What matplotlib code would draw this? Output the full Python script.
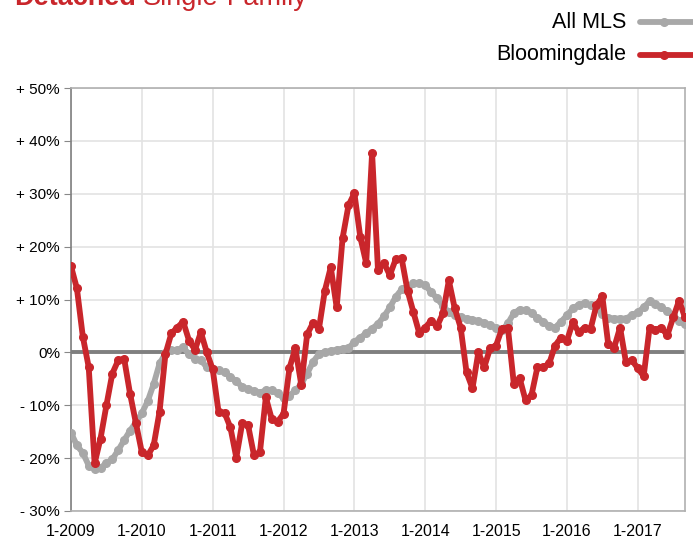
import numpy as np
import matplotlib.pyplot as plt
from matplotlib.lines import Line2D

plt.rcParams['font.family'] = ['Liberation Sans', 'DejaVu Sans']

# monthly year-over-year change, 1-2009 .. 9-2017
bloomingdale = [
    16.3, 12.1, 3.0, -2.8, -21.0, -16.3, -10.0, -4.0, -1.5, -1.2,
    -7.8, -13.4, -18.9, -19.5, -17.6, -11.2, -0.3, 3.6, 4.7, 5.8,
    2.2, 0.5, 3.8, 0.0, -3.2, -11.3, -11.4, -14.2, -19.9, -13.4,
    -13.8, -19.5, -18.9, -8.5, -12.6, -13.1, -11.6, -3.0, 0.8, -6.1,
    3.4, 5.6, 4.5, 11.7, 16.1, 8.5, 21.6, 27.8, 30.1, 21.8,
    16.9, 37.7, 15.5, 16.9, 14.6, 17.6, 17.8, 11.7, 7.6, 3.6,
    4.7, 6.0, 4.9, 7.4, 13.6, 8.3, 4.7, -3.8, -6.8, 0.0,
    -2.8, 0.8, 1.3, 4.5, 4.7, -5.9, -4.9, -9.1, -8.1, -2.8,
    -2.8, -2.1, 1.3, 2.8, 2.2, 5.7, 3.8, 4.7, 4.4, 8.9,
    10.6, 1.5, 0.9, 4.7, -1.9, -1.5, -3.0, -4.5, 4.7, 4.2,
    4.7, 3.2, 6.6, 9.8, 6.6,
]
all_mls = [
    -15.2, -17.6, -19.0, -21.4, -22.0, -21.8, -21.0, -20.2, -18.5, -16.6,
    -14.8, -13.2, -11.5, -9.2, -6.0, -2.1, -0.2, 0.4, 0.4, 1.0,
    -0.4, -1.2, -1.5, -2.8, -3.2, -3.4, -3.8, -4.6, -5.5, -6.5,
    -7.0, -7.3, -7.6, -7.2, -7.2, -7.7, -8.7, -8.2, -7.2, -6.0,
    -4.0, -1.8, -0.3, 0.0, 0.3, 0.5, 0.7, 0.8, 2.0, 2.8,
    3.6, 4.5, 5.4, 6.8, 8.5, 10.5, 11.9, 12.5, 13.1, 13.1,
    12.7, 11.4, 10.2, 8.8, 7.6, 7.0, 6.6, 6.4, 6.2, 5.9,
    5.6, 5.1, 4.7, 4.2, 5.5, 7.4, 8.1, 8.0, 7.5, 6.5,
    5.8, 5.0, 4.7, 5.8, 7.0, 8.3, 9.0, 9.3, 8.9, 8.4,
    7.2, 6.5, 6.4, 6.4, 6.4, 7.0, 7.6, 8.5, 9.7, 9.2,
    8.5, 7.8, 7.0, 6.0, 5.3,
]
year_labels = ['1-2009', '1-2010', '1-2011', '1-2012', '1-2013',
               '1-2014', '1-2015', '1-2016', '1-2017']
y_values = [50, 40, 30, 20, 10, 0, -10, -20, -30]
y_labels = ['+ 50%', '+ 40%', '+ 30%', '+ 20%', '+ 10%', '0%',
            '- 10%', '- 20%', '- 30%']

red = '#C9262B'
grey = '#A8A8A8'

months = np.arange(len(bloomingdale))

fig = plt.figure(figsize=(6.93, 5.38), dpi=100)
ax = fig.add_axes([71 / 693, 27 / 538, 614 / 693, 423 / 538])

ax.plot(months, all_mls, color=grey, lw=4.2, marker='o', ms=5.5,
        solid_capstyle='round', zorder=3)
ax.plot(months, bloomingdale, color=red, lw=4.2, marker='o', ms=5.5,
        solid_capstyle='round', zorder=4)
ax.axhline(0, color='#7F7F7F', lw=2.8, zorder=2)

ax.set_xlim(0, 104)
ax.set_ylim(-30, 50)
ax.set_xticks(np.arange(0, 105, 12))
ax.set_xticklabels(year_labels, fontsize=11.5)
ax.set_yticks(y_values)
ax.set_yticklabels(y_labels, fontsize=11)
ax.grid(True, color='#E3E3E3', lw=1.2, zorder=0)
ax.tick_params(axis='x', length=0, pad=9)
ax.tick_params(axis='y', length=5, color='#888888', pad=3)
for side in ['top', 'right', 'bottom']:
    ax.spines[side].set_color('#B0B0B0')
    ax.spines[side].set_linewidth(1.2)
ax.spines['left'].set_color('#7F7F7F')
ax.spines['left'].set_linewidth(1.2)

# heading, partly off the top edge
t = fig.text(14 / 693, 1.004, 'Detached', color=red, fontsize=19.5,
             fontweight='bold', va='center', ha='left')
fig.canvas.draw()
bb = t.get_window_extent()
fig.text(bb.x1 / fig.bbox.width + 0.01, 1.004, 'Single-Family', color=red,
         fontsize=19.5, va='center', ha='left')

# legend
for y, name, c in [(1 - 22 / 538, 'All MLS', grey),
                   (1 - 55 / 538, 'Bloomingdale', red)]:
    fig.text(626 / 693, y, name, fontsize=15.5, ha='right', va='center')
    fig.add_artist(Line2D([640 / 693, 1.02], [y, y], color=c, lw=4.2,
                          solid_capstyle='round', transform=fig.transFigure))
    fig.add_artist(Line2D([664 / 693], [y], color=c, marker='o', ms=5.5,
                          transform=fig.transFigure))

fig.savefig('out.png', dpi=100)
